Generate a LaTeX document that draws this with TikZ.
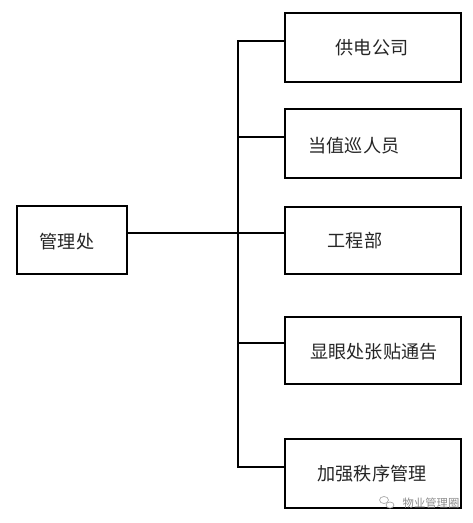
\documentclass[tikz,border=0pt]{standalone}
\usepackage{fontspec}
\setmainfont{Noto Sans CJK SC}
\newfontfamily\cjk{Noto Sans CJK SC}
\begin{document}
\begin{tikzpicture}[x=0.75pt,y=-0.75pt,
  box/.style={draw=black,line width=0.8pt,inner sep=0pt},
  lbl/.style={inner sep=0pt,font=\cjk\fontsize{13.6pt}{13.6pt}\selectfont,text=black!85},
  wire/.style={draw=black,line width=0.8pt},
  wm/.style={inner sep=0pt,font=\cjk\fontsize{8.5pt}{8.5pt}\selectfont,text=black!45}]
\useasboundingbox (0,0) rectangle (473,523);
% boxes
\node[box,minimum width=82.5pt,minimum height=51pt] (L) at (72,240) {};
\node[box,minimum width=132pt,minimum height=51.75pt] (b1) at (373,47.5) {};
\node[box,minimum width=132pt,minimum height=51.75pt] (b2) at (373,143.5) {};
\node[box,minimum width=132pt,minimum height=50.25pt] (b3) at (373,240.5) {};
\node[box,minimum width=132pt,minimum height=50.25pt] (b4) at (373,350.5) {};
\node[box,minimum width=132pt,minimum height=51.75pt] (b5) at (373,473.5) {};
% texts
\node[lbl] (tL) at (67,242) {管理处};
\node[lbl] (t1) at (372,48) {供电公司};
\node[lbl] (t2) at (354,146) {当值巡人员};
\node[lbl] (t3) at (355,241) {工程部};
\node[lbl] (t4) at (374,352) {显眼处张贴通告};
\node[lbl] (t5) at (372,474) {加强秩序管理};
% connectors
\coordinate (j) at (238,233);
\coordinate (j1) at (238,41);
\coordinate (j2) at (238,137);
\coordinate (j4) at (238,343);
\coordinate (j5) at (238,467);
\draw[wire] (L.east |- j) -- (b3.west |- j);
\draw[wire] (b1.west |- j1) -- (j1) -- (j5) -- (b5.west |- j5);
\draw[wire] (j2) -- (b2.west |- j2);
\draw[wire] (j4) -- (b4.west |- j4);
% watermark
\draw[black!35,line width=0.5pt] (384,500) ellipse (4.5 and 3.5);
\draw[black!35,line width=0.5pt,fill=white] (390,505) ellipse (4 and 3);
\node[wm] (wmt) at (431,503) {物业管理圈};
\end{tikzpicture}
\end{document}
